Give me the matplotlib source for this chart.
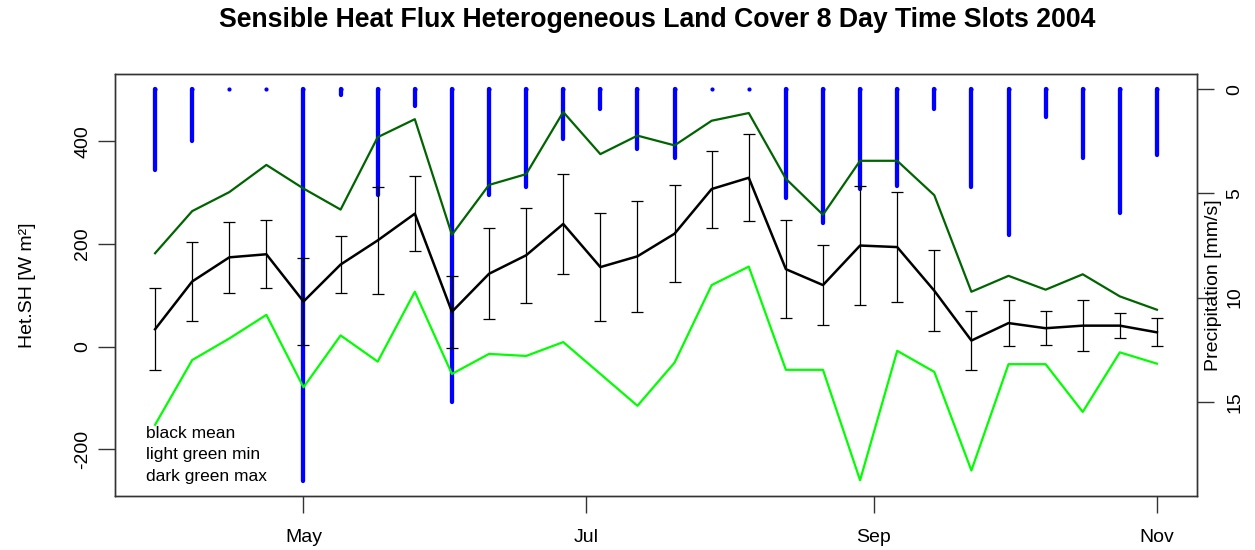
import matplotlib
matplotlib.use("Agg")
import matplotlib.pyplot as plt
import matplotlib.dates as mdates
import numpy as np

plt.rcParams['font.family'] = ['Liberation Sans', 'DejaVu Sans']
plt.rcParams['axes.unicode_minus'] = False

# ---- data ----
dates = ["2004-03-30", "2004-04-07", "2004-04-15", "2004-04-23", "2004-05-01",
         "2004-05-09", "2004-05-17", "2004-05-25", "2004-06-02", "2004-06-10",
         "2004-06-18", "2004-06-26", "2004-07-04", "2004-07-12", "2004-07-20",
         "2004-07-28", "2004-08-05", "2004-08-13", "2004-08-21", "2004-08-29",
         "2004-09-06", "2004-09-14", "2004-09-22", "2004-09-30", "2004-10-08",
         "2004-10-16", "2004-10-24", "2004-11-01"]
sh_mean = [34, 127, 174, 180, 88, 160, 207, 259, 68, 142, 178, 239, 155, 176,
           220, 307, 329, 151, 120, 197, 194, 109, 12, 46, 36, 41, 41, 28]
sh_sd = [80, 76, 69, 66, 84, 55, 104, 73, 70, 89, 93, 97, 105, 108,
         94, 75, 85, 95, 78, 115, 107, 79, 57, 45, 33, 50, 25, 27]
sh_max = [182, 264, 301, 354, 308, 267, 408, 443, 218, 315, 336, 457, 375, 411,
          392, 440, 455, 327, 257, 362, 362, 295, 107, 138, 111, 141, 98, 72]
sh_min = [-152, -26, 16, 62, -79, 22, -29, 107, -53, -14, -18, 9, -53, -115,
          -31, 120, 156, -45, -45, -260, -8, -49, -241, -34, -34, -127, -11, -33]
precip = [3.9, 2.5, 0, 0, 18.8, 0.3, 5.1, 0.8, 15.0, 5.1, 4.7, 2.4, 0.95, 2.85,
          3.3, 0, 0, 5.2, 6.4, 4.8, 4.65, 0.95, 4.7, 7.0, 1.35, 3.3, 5.95, 3.15]

left_ticks = [-200, 0, 200, 400]
right_ticks = [0, 5, 10, 15]
month_ticks = ["2004-05-01", "2004-07-01", "2004-09-01", "2004-11-01"]
month_labels = ["May", "Jul", "Sep", "Nov"]

title = "Sensible Heat Flux Heterogeneous Land Cover 8 Day Time Slots 2004"

# ---- figure ----
W, H = 1255, 550
fig = plt.figure(figsize=(W / 100, H / 100), dpi=100)
L, R, T, B = 115, 1197, 74, 496
ax1 = fig.add_axes([L / W, 1 - B / H, (R - L) / W, (B - T) / H])
ax2 = ax1.twinx()
ax1.set_zorder(2)
ax2.set_zorder(1)
ax1.patch.set_visible(False)

x = mdates.datestr2num(dates)
mt = mdates.datestr2num(month_ticks)

# precipitation bars (R type="h")
vl = ax2.vlines(x, 0, precip, colors='#0000FF', linewidth=3.1)
vl.set_capstyle('round')
ax2.plot(x, np.zeros(len(x)), linestyle='none', marker='o', markersize=3.0,
         color='#0000FF', markeredgewidth=0)
ax2.set_ylim(19.52, -0.73)
ax2.set_yticks(right_ticks)

# heat flux
ax1.plot(x, sh_min, color='#00FF00', lw=1.6, zorder=3)
ax1.plot(x, sh_max, color='#006400', lw=1.6, zorder=3)
ax1.errorbar(x, sh_mean, yerr=sh_sd, fmt='none', ecolor='#000000', elinewidth=0.9,
             capsize=4, capthick=0.9, zorder=4)
ax1.plot(x, sh_mean, color='#000000', lw=1.8, zorder=5)

span = x[-1] - x[0]
ax1.set_xlim(x[0] - 0.04 * span, x[-1] + 0.04 * span)
ax1.set_ylim(-290.7, 531)
ax1.set_yticks(left_ticks)
ax1.set_xticks(mt)
ax1.set_xticklabels(month_labels)

for ax in (ax1, ax2):
    for s in ax.spines.values():
        s.set_linewidth(1.0)
        s.set_color('#333333')

ax1.tick_params(axis='x', length=12, width=1, color='#333333', labelsize=14, pad=12)
ax1.tick_params(axis='y', length=12, width=1, color='#333333', labelsize=14, pad=5,
                labelrotation=90)
ax2.tick_params(axis='y', length=12, width=1, color='#333333', labelsize=14, pad=9,
                labelrotation=90)
for lab in ax1.get_yticklabels():
    lab.set_va('center')
for lab in ax2.get_yticklabels():
    lab.set_va('center')

fig.text(657 / W, 1 - 20 / H, title, ha='center', va='center', fontsize=19.2,
         fontweight='bold')
fig.text(27 / W, 1 - 285 / H, "Het.SH [W m²]", rotation=90, ha='center', va='center',
         fontsize=14)
fig.text(1213 / W, 1 - 285 / H, "Precipitation [mm/s]", rotation=90, ha='center',
         va='center', fontsize=14)

for txt, yp in zip(["black mean", "light green min", "dark green max"], [434, 455, 477]):
    ax1.text((146 - L) / (R - L), (B - yp) / (B - T), txt, transform=ax1.transAxes,
             ha='left', va='center', fontsize=12.5)

fig.savefig("out.png", dpi=100)
